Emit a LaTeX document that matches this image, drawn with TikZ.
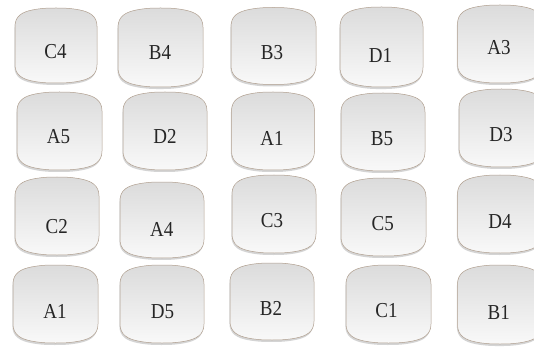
\documentclass[tikz,border=0pt]{standalone}
\usepackage{fontspec}
\setmainfont{Liberation Serif}
\tikzset{
  x=1pt,y=1pt,
  lbl/.style={inner sep=0pt, font=\fontsize{19}{19}\selectfont, text=black!85},
  barrelfill/.style={top color=gray!28, middle color=gray!12, bottom color=gray!5},
  barrelline/.style={draw=brown!35!gray!75, line width=0.5pt},
  barrelshadow/.style={fill=gray!60, opacity=0.55}
}
\newcommand\barrelpath{(-42,20) -- (-42,-20) .. controls (-42,-31) and (-34,-35) .. (-24,-37) .. controls (-14,-39) and (-6,-39) .. (0,-39) .. controls (6,-39) and (14,-39) .. (24,-37) .. controls (34,-35) and (42,-31) .. (42,-20) -- (42,20) .. controls (42,31) and (34,35) .. (24,37) .. controls (14,39) and (6,39) .. (0,39) .. controls (-6,39) and (-14,39) .. (-24,37) .. controls (-34,35) and (-42,31) .. (-42,20) -- cycle}
% #1 box cx, #2 box cy, #3 w, #4 h, #5 name, #6 text x, #7 text y, #8 text
\newcommand\bx[8]{%
  \begin{scope}[shift={(#1,-#2)}, xscale=#3/84, yscale=#4/78]
    \begin{scope}[shift={(-0.6,-2)}]
      \path[barrelshadow] \barrelpath;
    \end{scope}
    \shade[barrelfill] \barrelpath;
    \draw[barrelline] \barrelpath;
  \end{scope}
  \node[lbl] (#5) at (#6,-#7) {\scalebox{1}[1.12]{#8}};}
\begin{document}
\begin{tikzpicture}
\useasboundingbox (0,0) rectangle (534,-347);
\fill[white] (0,0) rectangle (534,-347);
\begin{scope}
\clip (0,0) rectangle (534,-347);
\bx{56}{45.5}{82}{75}{c4}{55.5}{52}{C4}
\bx{160.5}{47.5}{85}{79}{b4}{160}{53}{B4}
\bx{273.5}{46}{85}{77}{b3}{272}{53}{B3}
\bx{381.5}{47}{83}{80}{d1}{380.5}{55}{D1}
\bx{500}{44}{85}{78}{a3}{499}{48}{A3}
\bx{59.5}{131}{85}{78}{a5}{58.5}{136.5}{A5}
\bx{165}{131}{84}{78}{d2}{165}{136.5}{D2}
\bx{273}{131}{83}{78}{a1}{272}{138.5}{A1}
\bx{383}{132}{84}{78}{b5}{382}{139}{B5}
\bx{501.5}{128}{85}{78}{d3}{501}{134.5}{D3}
\bx{57}{216}{84}{78}{c2}{56.7}{226.7}{C2}
\bx{162}{220}{84}{76}{a4}{161.7}{229}{A4}
\bx{274}{214}{84}{78}{c3}{272}{221}{C3}
\bx{383.5}{217}{85}{78}{c5}{382.7}{224}{C5}
\bx{500}{214}{85}{78}{d4}{500}{221.7}{D4}
\bx{55.5}{304}{85}{78}{a1b}{55}{311.7}{A1}
\bx{162}{304}{84}{78}{d5}{162.5}{311.7}{D5}
\bx{272}{301.5}{84}{77}{b2}{271}{308}{B2}
\bx{388.5}{304}{85}{78}{c1}{386.5}{310.8}{C1}
\bx{500}{304.5}{85}{79}{b1}{498.7}{312.5}{B1}
\end{scope}
\end{tikzpicture}
\end{document}
